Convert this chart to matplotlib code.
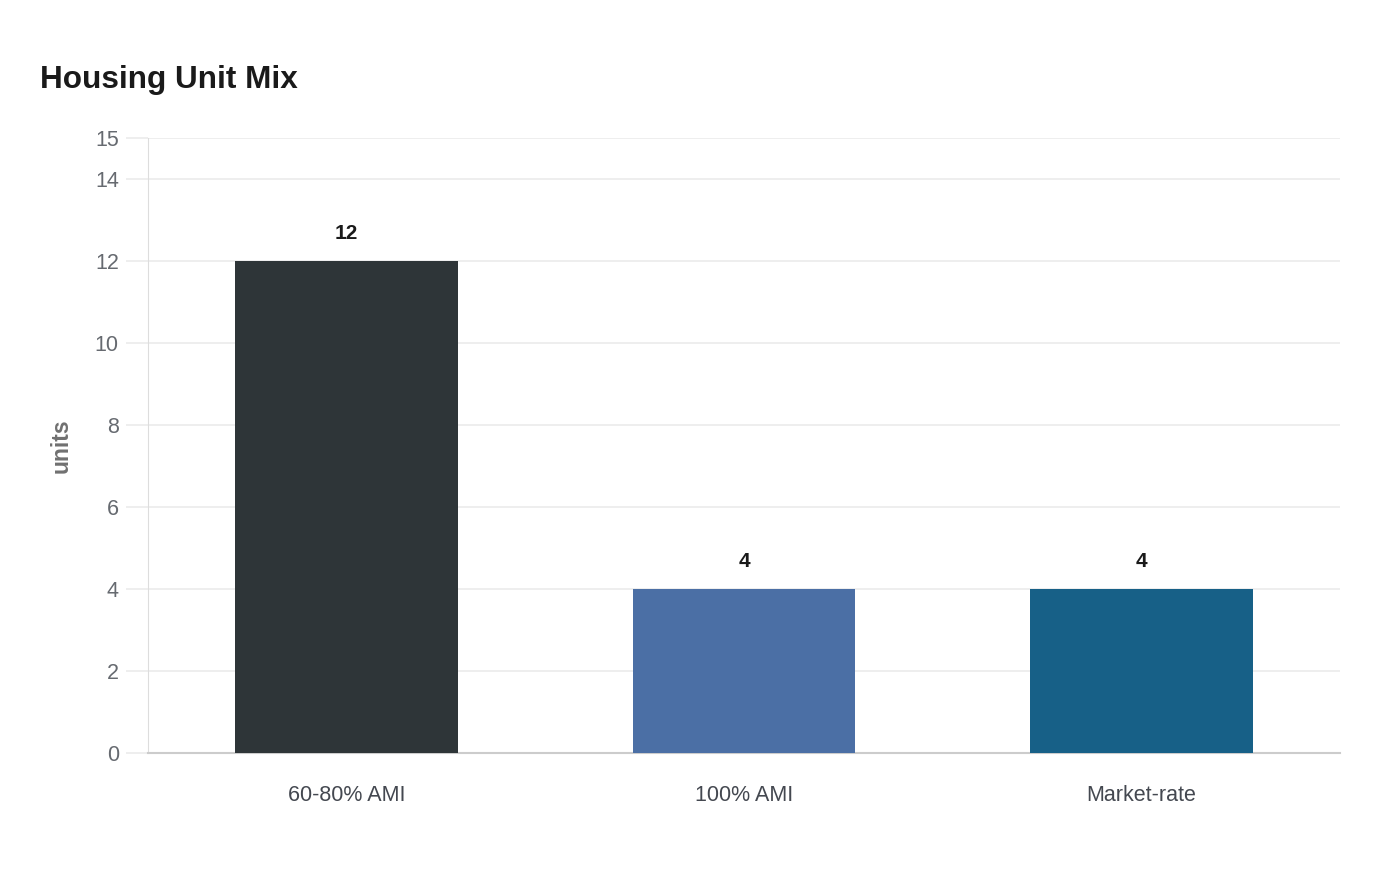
import matplotlib.pyplot as plt

plt.rcParams['font.family'] = ['Liberation Sans', 'DejaVu Sans']

# data
categories = ["60-80% AMI", "100% AMI", "Market-rate"]
units = [12, 4, 4]
colors = ["#2e3538", "#4b6fa5", "#176087"]
yticks = [0, 2, 4, 6, 8, 10, 12, 14, 15]

fig = plt.figure(figsize=(14, 8.8), dpi=100)
ax = fig.add_axes([0.1057, 0.1443, 0.8514, 0.6989])

x = list(range(len(categories)))
ax.bar(x, units, width=0.56, color=colors, linewidth=0, zorder=3)

for xi, v in zip(x, units):
    ax.text(xi, v + 0.45, str(v), ha="center", va="bottom",
            fontsize=15, fontweight="bold", color="#1a1a1a")

ax.set_xlim(-0.5, len(categories) - 0.5)
ax.set_ylim(0, 15)
ax.set_yticks(yticks)
ax.set_xticks(x)
ax.set_xticklabels(categories)
ax.tick_params(axis="y", length=16, color="#ebebeb", labelsize=15.5,
               labelcolor="#666a70", pad=5, width=1.2)
ax.tick_params(axis="x", length=0, labelsize=15.5, labelcolor="#444850", pad=23)
ax.grid(axis="y", color="#ebebeb", linewidth=1.2, zorder=0)

for s in ["top", "right"]:
    ax.spines[s].set_visible(False)
ax.spines["left"].set_color("#dddddd")
ax.spines["left"].set_linewidth(0.8)
ax.spines["bottom"].set_color("#cccccc")
ax.spines["bottom"].set_linewidth(1.5)

ax.set_ylabel("units", fontsize=16.5, fontweight="bold", color="#707070", labelpad=16)

fig.text(40 / 1400, 1 - 80 / 880, "Housing Unit Mix", fontsize=22.7,
         fontweight="bold", color="#1a1a1a", va="center", ha="left")

fig.savefig("out.png", dpi=100, facecolor="white")
